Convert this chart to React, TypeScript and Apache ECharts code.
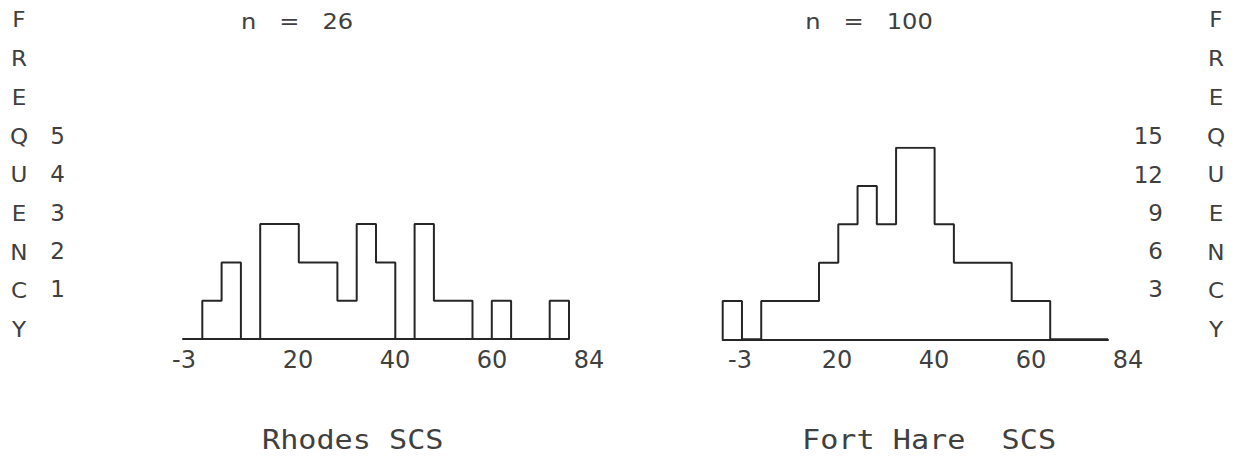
import React, { useEffect, useRef } from "react";
import * as echarts from "echarts";

// Bin edges of the histograms (SCS scale from -3 to 84, 20 bins)
const binEdges = [-3, 1.35, 5.7, 10.05, 14.4, 18.75, 23.1, 27.45, 31.8, 36.15, 40.5, 44.85, 49.2, 53.55, 57.9, 62.25, 66.6, 70.95, 75.3, 79.65, 84];
// Frequencies per bin
const rhodesCounts = [0, 1, 2, 0, 3, 3, 2, 2, 1, 3, 2, 0, 3, 1, 1, 0, 1, 0, 0, 1];
const fortHareCounts = [3, 0, 3, 3, 3, 6, 9, 12, 9, 15, 15, 9, 6, 6, 6, 3, 3, 0, 0, 0];
// Tick labels
const xTickLabels = ["-3", "20", "40", "60", "84"];
const rhodesTitle = "n   =   26";
const fortHareTitle = "n   =   100";
const rhodesName = "Rhodes SCS";
const fortHareName = "Fort Hare  SCS";
const yName = "FREQUENCY";

const INK = "#262626";
const TXT = "#404040";
const SANS = "DejaVu Sans";
const MONO = "DejaVu Sans Mono";

function stepPoints(counts: number[]) {
  const pts: number[][] = [[binEdges[0], 0]];
  counts.forEach((c, i) => pts.push([binEdges[i], c]));
  pts.push([binEdges[binEdges.length - 1], 0]);
  return pts;
}

export default function App() {
  const ref = useRef<HTMLDivElement>(null);
  useEffect(() => {
    if (!ref.current) return;
    const chart = echarts.init(ref.current, null, { renderer: "svg" });
    const dataX = (grid: number) => ({
      gridIndex: grid,
      type: "value",
      min: -3,
      max: 84,
      axisLine: { show: true, onZero: false, lineStyle: { color: INK, width: 2 } },
      axisTick: { show: false },
      axisLabel: { show: false },
      splitLine: { show: false },
    });
    const labelX = (grid: number, shiftFirst: boolean) => ({
      gridIndex: grid,
      type: "category",
      data: xTickLabels,
      boundaryGap: false,
      axisLine: { show: false },
      axisTick: { show: false },
      splitLine: { show: false },
      axisLabel: {
        interval: 0,
        margin: 9,
        fontSize: 24,
        fontFamily: SANS,
        color: TXT,
        formatter: (v: string, i: number) => (shiftFirst && i === 0 ? "{a|" + v + "}" : v),
        rich: { a: { padding: [0, 34, 0, 0], fontSize: 24, fontFamily: SANS, color: TXT } },
      },
    });
    const yLabel = {
      verticalAlign: "bottom",
      fontSize: 23,
      fontFamily: SANS,
      color: TXT,
      formatter: (v: number) => (v === 0 ? "" : String(v)),
    };
    const letters = (x: number) => ({
      type: "text",
      x,
      y: 1,
      scaleX: 1.1,
      style: {
        text: yName.split("").join("\n"),
        font: `21px '${SANS}'`,
        lineHeight: 38.7,
        fill: TXT,
        align: "center",
        verticalAlign: "top",
      },
    });
    chart.setOption({
      animation: false,
      backgroundColor: "#ffffff",
      grid: [
        { left: 183, top: 147.5, width: 386, height: 191.5 },
        { left: 201, top: 330, width: 388, height: 9 },
        { left: 722.7, top: 147.7, width: 385.3, height: 191.6 },
        { left: 740, top: 330, width: 388, height: 9 },
      ],
      xAxis: [dataX(0), labelX(1, true), dataX(2), labelX(3, false)],
      yAxis: [
        {
          gridIndex: 0,
          type: "value",
          min: 0,
          max: 5,
          interval: 1,
          axisLine: { show: false },
          axisTick: { show: false },
          splitLine: { show: false },
          axisLabel: { ...yLabel, margin: 118 },
        },
        { gridIndex: 1, type: "value", show: false },
        {
          gridIndex: 2,
          type: "value",
          position: "right",
          min: 0,
          max: 15,
          interval: 3,
          axisLine: { show: false },
          axisTick: { show: false },
          splitLine: { show: false },
          axisLabel: { ...yLabel, margin: 55, align: "right" },
        },
        { gridIndex: 3, type: "value", show: false },
      ],
      series: [
        {
          type: "line",
          step: "end",
          xAxisIndex: 0,
          yAxisIndex: 0,
          data: stepPoints(rhodesCounts),
          showSymbol: false,
          lineStyle: { color: INK, width: 2 },
        },
        {
          type: "line",
          step: "end",
          xAxisIndex: 2,
          yAxisIndex: 2,
          data: stepPoints(fortHareCounts),
          showSymbol: false,
          lineStyle: { color: INK, width: 2 },
        },
      ],
      graphic: [
        letters(19),
        letters(1216),
        {
          type: "text",
          x: 297,
          y: 22,
          scaleX: 1.15,
          style: { text: rhodesTitle, font: `21px '${SANS}'`, fill: TXT, align: "center", verticalAlign: "middle" },
        },
        {
          type: "text",
          x: 869,
          y: 22,
          scaleX: 1.15,
          style: { text: fortHareTitle, font: `21px '${SANS}'`, fill: TXT, align: "center", verticalAlign: "middle" },
        },
        {
          type: "text",
          x: 262,
          y: 440,
          scaleX: 1.16,
          style: { text: rhodesName, font: `26px '${MONO}'`, fill: TXT, align: "left", verticalAlign: "middle" },
        },
        {
          type: "text",
          x: 802,
          y: 440,
          scaleX: 1.16,
          style: { text: fortHareName, font: `26px '${MONO}'`, fill: TXT, align: "left", verticalAlign: "middle" },
        },
      ],
    });
    return () => chart.dispose();
  }, []);
  return (
    <div
      ref={ref}
      style={{ position: "fixed", left: 0, top: 0, width: 1236, height: 460, background: "#fff" }}
    />
  );
}
